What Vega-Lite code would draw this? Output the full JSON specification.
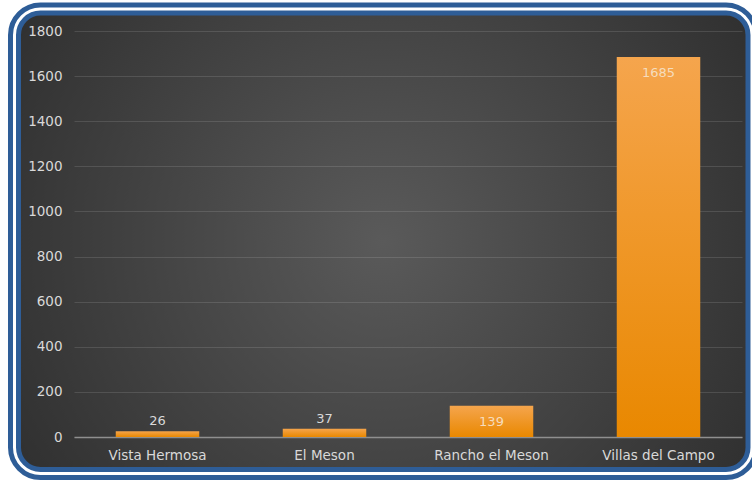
{
  "$schema": "https://vega.github.io/schema/vega-lite/v6.json",
  "autosize": {"type": "none"},
  "padding": {"left": 14.5, "top": 9, "right": 0, "bottom": 6.5},
  "width": 737.5,
  "height": 464.5,
  "background": "#ffffff",
  "config": {
    "font": "DejaVu Sans",
    "view": {
      "stroke": null,
      "cornerRadius": 26,
      "fill": {
        "gradient": "radial",
        "x1": 0.5, "y1": 0.5, "r1": 0,
        "x2": 0.5, "y2": 0.5, "r2": 0.72,
        "stops": [
          {"offset": 0, "color": "#5a5a5a"},
          {"offset": 1, "color": "#262626"}
        ]
      }
    }
  },
  "data": {
    "values": [
      {"loc": "Vista Hermosa", "n": 26},
      {"loc": "El Meson", "n": 37},
      {"loc": "Rancho el Meson", "n": 139},
      {"loc": "Villas del Campo", "n": 1685}
    ]
  },
  "layer": [
    {
      "data": {"values": [{}]},
      "mark": {"type": "rect", "filled": false, "stroke": "#2e5d97", "strokeWidth": 13, "cornerRadius": 26},
      "encoding": {}
    },
    {
      "data": {"values": [{}]},
      "mark": {"type": "rect", "filled": false, "stroke": "#ffffff", "strokeWidth": 3, "cornerRadius": 26},
      "encoding": {}
    },
    {
      "mark": {
        "type": "bar",
        "fill": {
          "gradient": "linear",
          "x1": 0, "y1": 0, "x2": 0, "y2": 1,
          "stops": [
            {"offset": 0, "color": "#f5a54d"},
            {"offset": 1, "color": "#e98800"}
          ]
        }
      },
      "encoding": {
        "x": {
          "field": "loc",
          "type": "nominal",
          "sort": null,
          "scale": {"range": [59.5, 727.5], "paddingInner": 0.5, "paddingOuter": 0.25},
          "axis": {
            "title": null,
            "orient": "bottom",
            "offset": -36.5,
            "domainColor": "#8f8f8f",
            "domainWidth": 1.5,
            "ticks": false,
            "grid": false,
            "labelAngle": 0,
            "labelColor": "#d9d9d9",
            "labelFont": "DejaVu Sans",
            "labelFontSize": 13.5,
            "labelPadding": 11
          }
        },
        "y": {
          "field": "n",
          "type": "quantitative",
          "scale": {"domain": [0, 1800], "range": [428, 22], "nice": false, "zero": true},
          "axis": {
            "title": null,
            "offset": -59.5,
            "domain": false,
            "ticks": false,
            "format": "d",
            "values": [0, 200, 400, 600, 800, 1000, 1200, 1400, 1600, 1800],
            "grid": true,
            "gridColor": "#ffffff",
            "gridOpacity": 0.12,
            "gridWidth": 1,
            "labelColor": "#d9d9d9",
            "labelFont": "DejaVu Sans",
            "labelFontSize": 13.5,
            "labelPadding": 12,
            "zindex": 0
          }
        }
      }
    },
    {
      "transform": [{"filter": "datum.n < 100"}],
      "mark": {"type": "text", "baseline": "alphabetic", "dy": -6, "fontSize": 13, "color": "#d9d9d9", "font": "DejaVu Sans"},
      "encoding": {
        "x": {"field": "loc", "type": "nominal", "sort": null},
        "y": {"field": "n", "type": "quantitative"},
        "text": {"field": "n", "type": "quantitative", "format": "d"}
      }
    },
    {
      "transform": [{"filter": "datum.n >= 100"}],
      "mark": {"type": "text", "baseline": "alphabetic", "dy": 20, "fontSize": 13, "color": "#f6dcbc", "font": "DejaVu Sans"},
      "encoding": {
        "x": {"field": "loc", "type": "nominal", "sort": null},
        "y": {"field": "n", "type": "quantitative"},
        "text": {"field": "n", "type": "quantitative", "format": "d"}
      }
    }
  ]
}
